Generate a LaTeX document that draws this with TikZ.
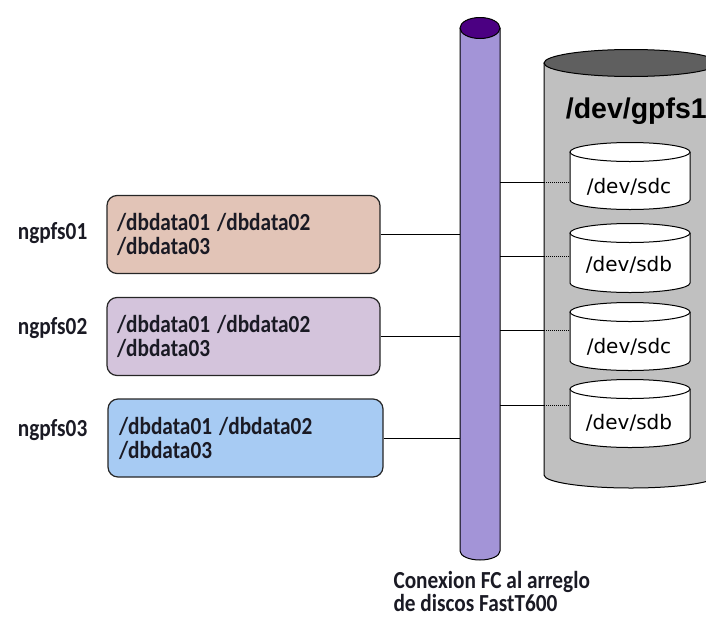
\documentclass[tikz,border=0pt]{standalone}
\usepackage{fontspec}
\usepackage{graphicx}
\setmainfont{Carlito}
\newfontfamily\diskfont{DejaVu Sans}
\newfontfamily\volfont{Liberation Sans}
\usetikzlibrary{calc}

\definecolor{pipebody}{HTML}{A394D7}
\definecolor{pipetop}{HTML}{4B0082}
\definecolor{arraybody}{HTML}{C0C0C0}
\definecolor{arraytop}{HTML}{5F5F5F}
\definecolor{boxA}{HTML}{E2C4B7}
\definecolor{boxB}{HTML}{D4C4DC}
\definecolor{boxC}{HTML}{A7CBF3}
\definecolor{ink}{HTML}{1A1A24}

% slightly tall text, as the screen font renders it
\newcommand\tall[1]{\scalebox{1}[1.15]{#1}}
\newcommand\tallstack[1]{\raisebox{-3pt}[\height][\depth]{%
  \tall{\begin{tabular}{@{}l@{}}#1\end{tabular}}}}
\newcommand\tallcaption[1]{\raisebox{0pt}[\height][0pt]{%
  \tall{\begin{tabular}[t]{@{}l@{}}#1\end{tabular}}}}

% a small disk: centre x, top-face y, bottom-face y
\newcommand\storagedisk[3]{%
  \fill[white] (#1-60,#2) -- (#1-60,#3)
    arc[start angle=180,end angle=360,x radius=60pt,y radius=9.5pt]
    -- (#1+60,#2) -- cycle;
  \draw (#1-60,#2) -- (#1-60,#3)
    arc[start angle=180,end angle=360,x radius=60pt,y radius=9.5pt]
    -- (#1+60,#2);
  \draw[fill=white] (#1,#2) ellipse[x radius=60pt,y radius=9.5pt];
}

\begin{document}
\begin{tikzpicture}[x=1pt,y=-1pt,line width=1pt,
  hostbox/.style={draw=black!85,line width=1.2pt,rounded corners=10pt,
    minimum width=273pt,minimum height=78pt,text width=253pt,
    inner xsep=10pt,align=left,text=ink,
    font=\fontsize{21.3}{19.5}\selectfont\bfseries},
  hostlabel/.style={anchor=base west,text=ink,
    font=\fontsize{21.3}{25}\selectfont\bfseries},
  disklabel/.style={font=\diskfont\fontsize{20}{24}\selectfont},
  link/.style={draw=black,line width=1pt},
  dotlink/.style={draw=black,line width=1pt,dash pattern=on 1pt off 1pt}]

\useasboundingbox (0,0) rectangle (706,616);
\begin{scope}
\clip (0,0) rectangle (706,616);

% storage array (runs off the right edge)
\fill[arraybody] (544,63) -- (544,475)
  arc[start angle=180,end angle=360,x radius=87pt,y radius=13pt]
  -- (718,63) -- cycle;
\draw (544,63) -- (544,475)
  arc[start angle=180,end angle=360,x radius=87pt,y radius=13pt]
  -- (718,63);
\draw[fill=arraytop] (631,63) ellipse[x radius=87pt,y radius=13.5pt];
\node[anchor=base west,font=\volfont\bfseries\fontsize{28.5}{30}\selectfont]
  (vol) at (562,118) {/dev/gpfs1};

% disks inside the array
\storagedisk{630}{152}{200}
\storagedisk{630}{233}{283}
\storagedisk{630}{312}{361}
\storagedisk{630}{389}{438}
\node[disklabel] (sdc1) at (629,187) {/dev/sdc};
\node[disklabel] (sdb1) at (629,265) {/dev/sdb};
\node[disklabel] (sdc2) at (629,347) {/dev/sdc};
\node[disklabel] (sdb2) at (629,423) {/dev/sdb};

% fibre channel pipe
\fill[pipebody] (460,28) -- (460,551)
  arc[start angle=180,end angle=360,x radius=20pt,y radius=9pt]
  -- (500,28) -- cycle;
\draw (460,28) -- (460,551)
  arc[start angle=180,end angle=360,x radius=20pt,y radius=9pt]
  -- (500,28);
\draw[fill=pipetop] (480,28) ellipse[x radius=20pt,y radius=10.5pt];
\coordinate (pipeW) at (460,0);

% pipe to disks
\foreach \n/\y in {1/182,2/256,3/330,4/405}{
  \coordinate (p\n) at (500,\y);
  \coordinate (g\n) at (544,\y);
  \coordinate (k\n) at (570,\y);
  \draw[link] (p\n) -- (g\n);
  \draw[dotlink] (g\n) -- (k\n);
}

% hosts
\node[hostbox,fill=boxA] (h1) at (243.5,234.5)
  {\tallstack{/dbdata01 /dbdata02\\/dbdata03}};
\node[hostbox,fill=boxB] (h2) at (243.5,336.5)
  {\tallstack{/dbdata01 /dbdata02\\/dbdata03}};
\node[hostbox,fill=boxC,minimum width=275pt,text width=253pt,inner xsep=11pt]
  (h3) at (245.5,438) {\tallstack{/dbdata01 /dbdata02\\/dbdata03}};
\node[hostlabel] (n1) at (14,239) {\tall{ngpfs01}};
\node[hostlabel] (n2) at (14,334) {\tall{ngpfs02}};
\node[hostlabel] (n3) at (14,436) {\tall{ngpfs03}};

\draw[link] (h1.east) -- (h1.east -| pipeW);
\draw[link] (h2.east) -- (h2.east -| pipeW);
\draw[link] (h3.east) -- (h3.east -| pipeW);

% caption
\node[anchor=base west,inner sep=0pt,text=ink,
  font=\fontsize{21.3}{19.1}\selectfont\bfseries] (cap) at (393,588)
  {\tallcaption{Conexion FC al arreglo\\de discos FastT600}};
\end{scope}
\end{tikzpicture}
\end{document}
